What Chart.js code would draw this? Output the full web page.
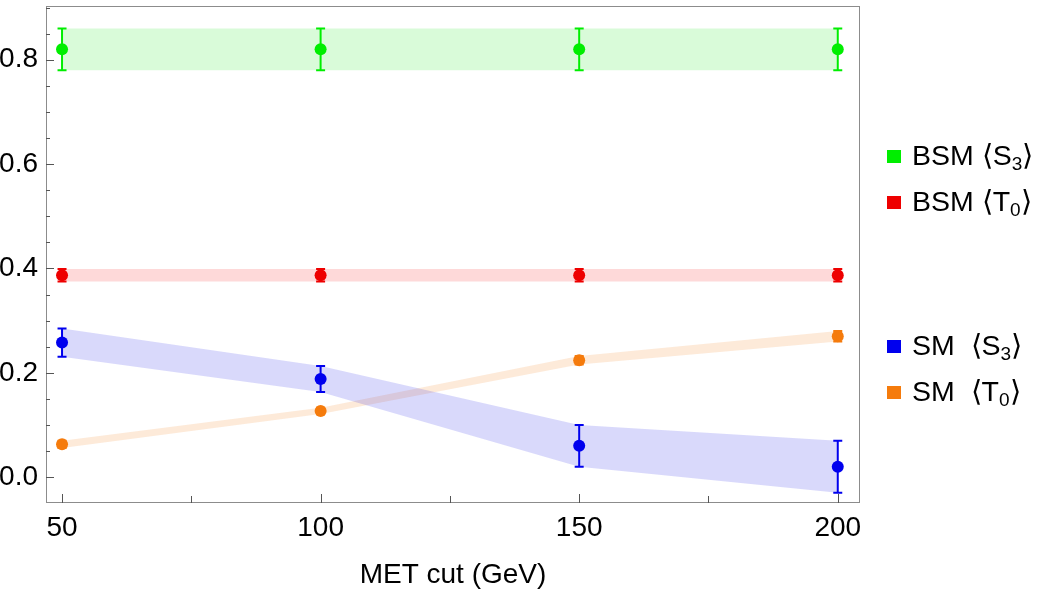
<!DOCTYPE html>
<html>
<head>
<meta charset="utf-8">
<script src="https://cdn.jsdelivr.net/npm/chart.js@4.4.1/dist/chart.umd.min.js"></script>
<style>
  html, body { margin: 0; padding: 0; background: #fff; }
  #wrap { position: relative; width: 1050px; height: 596px; }
  .legend { position: absolute; left: 887px; font-family: "Liberation Sans", Arial, sans-serif; font-size: 28.5px; line-height: 30px; color: #000; white-space: nowrap; }
  .legend span.box { display: inline-block; width: 14px; height: 13px; margin-right: 11px; vertical-align: middle; position: relative; top: -1px; }
  .legend sub { font-size: 19px; vertical-align: -5px; line-height: 0; }
</style>
</head>
<body>
<div id="wrap">
  <canvas id="chart" width="1050" height="596"></canvas>
  <div class="legend" style="top:140px"><span class="box" style="background:#00ee00"></span>BSM ⟨S<sub>3</sub>⟩</div>
  <div class="legend" style="top:186px"><span class="box" style="background:#ee0000"></span>BSM ⟨T<sub>0</sub>⟩</div>
  <div class="legend" style="top:330px"><span class="box" style="background:#0000ee"></span>SM&nbsp; ⟨S<sub>3</sub>⟩</div>
  <div class="legend" style="top:376px"><span class="box" style="background:#f57b0c"></span>SM&nbsp; ⟨T<sub>0</sub>⟩</div>
</div>
<script>
// data
const metCuts = [50, 100, 150, 200];

const bsmS3 = [0.82, 0.82, 0.82, 0.82];
const bsmS3Err = [0.04, 0.04, 0.04, 0.04];

const bsmT0 = [0.387, 0.387, 0.387, 0.387];
const bsmT0Err = [0.012, 0.012, 0.012, 0.012];

const smS3 = [0.258, 0.188, 0.06, 0.02];
const smS3Err = [0.027, 0.025, 0.04, 0.05];

const smT0 = [0.063, 0.127, 0.224, 0.27];
const smT0Err = [0.007, 0.006, 0.008, 0.01];

const yLabels = [0, 0.2, 0.4, 0.6, 0.8];
const xLabels = [50, 100, 150, 200];

const series = [
    { vals: bsmS3, errs: bsmS3Err, color: '#00ee00', band: 'rgba(0,230,0,0.15)' },
    { vals: bsmT0, errs: bsmT0Err, color: '#ee0000', band: 'rgba(245,0,0,0.15)' },
    { vals: smS3, errs: smS3Err, color: '#0000ee', band: 'rgba(30,30,230,0.17)' },
    { vals: smT0, errs: smT0Err, color: '#f57b0c', band: 'rgba(245,130,30,0.17)' }
];

const pts = (arr) => metCuts.map((x, i) => ({ x: x, y: arr[i] }));

// bands first (upper edge + lower edge filled to it), then the points
const datasets = [];
series.forEach(s => {
    datasets.push({
        data: pts(s.vals.map((v, i) => v + s.errs[i])), showLine: true,
        borderWidth: 0, borderColor: 'rgba(0,0,0,0)', pointRadius: 0, fill: false, order: 10
    });
    datasets.push({
        data: pts(s.vals.map((v, i) => v - s.errs[i])), showLine: true,
        borderWidth: 0, borderColor: 'rgba(0,0,0,0)', pointRadius: 0, fill: '-1', backgroundColor: s.band, order: 10
    });
});
series.forEach(s => {
    datasets.push({
        data: pts(s.vals), showLine: false, pointRadius: 6,
        pointBackgroundColor: s.color, pointBorderWidth: 0, errs: s.errs, barColor: s.color, order: 1
    });
});

// error bars w/ little caps
const errorBars = {
    id: 'errorBars',
    afterDatasetsDraw(chart) {
        const ctx = chart.ctx;
        const xs = chart.scales.x, ys = chart.scales.y;
        chart.data.datasets.forEach(ds => {
            if (!ds.errs) return;
            ctx.save();
            ctx.strokeStyle = ds.barColor;
            ctx.lineWidth = 2;
            ds.data.forEach((p, i) => {
                const px = xs.getPixelForValue(p.x);
                const top = ys.getPixelForValue(p.y + ds.errs[i]);
                const bot = ys.getPixelForValue(p.y - ds.errs[i]);
                ctx.beginPath();
                ctx.moveTo(px, top); ctx.lineTo(px, bot);
                ctx.moveTo(px - 4.5, top); ctx.lineTo(px + 4.5, top);
                ctx.moveTo(px - 4.5, bot); ctx.lineTo(px + 4.5, bot);
                ctx.stroke();
            });
            ctx.restore();
        });
    }
};

// grey frame with inward tick marks on left + bottom
const frame = {
    id: 'frame',
    afterDraw(chart) {
        const ctx = chart.ctx;
        const a = chart.chartArea;
        const xs = chart.scales.x, ys = chart.scales.y;
        ctx.save();
        ctx.strokeStyle = '#8c8c8c';
        ctx.lineWidth = 1;
        ctx.strokeRect(a.left + 0.5, a.top + 0.5, a.right - a.left - 1, a.bottom - a.top - 1);
        ctx.strokeStyle = '#555';
        ctx.beginPath();
        ys.ticks.forEach(t => {
            const py = Math.round(ys.getPixelForValue(t.value)) + 0.5;
            const major = yLabels.some(v => Math.abs(v - t.value) < 1e-6);
            ctx.moveTo(a.left, py); ctx.lineTo(a.left + (major ? 8 : 4), py);
        });
        xs.ticks.forEach(t => {
            const px = Math.round(xs.getPixelForValue(t.value)) + 0.5;
            const major = xLabels.includes(Math.round(t.value));
            ctx.moveTo(px, a.bottom); ctx.lineTo(px, a.bottom - (major ? 9 : 7));
        });
        ctx.stroke();
        ctx.restore();
    }
};

new Chart(document.getElementById('chart'), {
    type: 'scatter',
    data: { datasets: datasets },
    options: {
        responsive: false,
        animation: false,
        layout: { padding: { top: 3, right: 190, left: 0, bottom: 0 } },
        plugins: { legend: { display: false }, tooltip: { enabled: false } },
        scales: {
            x: {
                type: 'linear', min: 46.9, max: 204.3,
                grid: { display: false, drawTicks: false }, border: { display: false },
                ticks: {
                    stepSize: 25, includeBounds: false, autoSkip: false, maxRotation: 0,
                    color: '#000', padding: 8,
                    font: { family: 'Liberation Sans', size: 28 },
                    callback: (v) => xLabels.includes(Math.round(v)) ? String(Math.round(v)) : ''
                },
                title: {
                    display: true, text: 'MET cut (GeV)', color: '#000',
                    font: { family: 'Liberation Sans', size: 28 }, padding: { top: 10 }
                },
                afterFit: (s) => { s.height = 93; s.paddingLeft = 0; s.paddingRight = 0; }
            },
            y: {
                type: 'linear', min: -0.0495, max: 0.903,
                grid: { display: false, drawTicks: false }, border: { display: false },
                ticks: {
                    stepSize: 0.05, includeBounds: false, autoSkip: false,
                    color: '#000', padding: 8,
                    font: { family: 'Liberation Sans', size: 28 },
                    callback: (v) => {
                        const hit = yLabels.find(l => Math.abs(l - v) < 1e-6);
                        return hit !== undefined ? hit.toFixed(1) : '';
                    }
                },
                afterFit: (s) => { s.width = 46; s.paddingTop = 0; s.paddingBottom = 0; }
            }
        }
    },
    plugins: [errorBars, frame]
});
</script>
</body>
</html>
